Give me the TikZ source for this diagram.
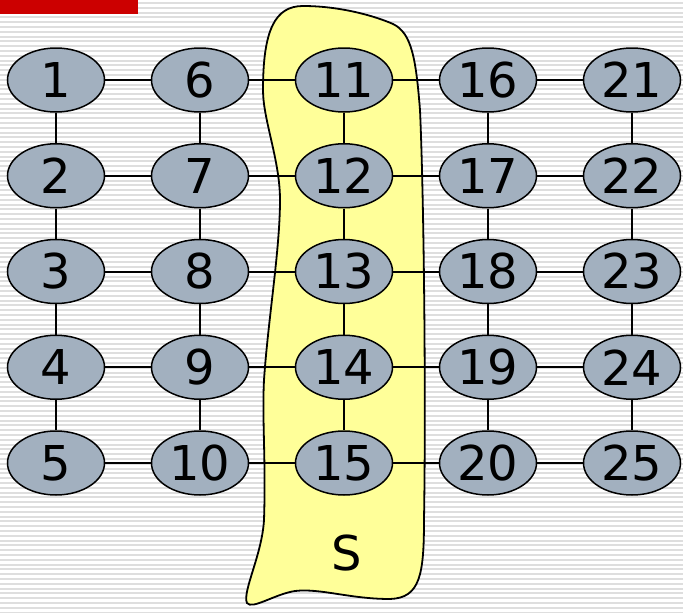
\documentclass[tikz,border=0pt]{standalone}
\usepackage{fontspec}
\setmainfont{DejaVu Sans}
\usepackage{xcolor}
\usepackage{tikz}
\usetikzlibrary{shapes.geometric}
\definecolor{gdnode}{HTML}{A2B0BF}
\definecolor{gdset}{HTML}{FFFF99}
\definecolor{gdred}{HTML}{CC0000}
\definecolor{gdstripe}{HTML}{DEDEDE}
\tikzset{
  vertex/.style={ellipse,draw=black,line width=1.5pt,fill=gdnode,
                 minimum width=97pt,minimum height=64pt,inner sep=0pt,
                 font=\fontsize{48}{52}\selectfont,text=black},
  link/.style={line width=2pt,draw=black},
  stripe/.style={line width=2pt,draw=gdstripe},
  region/.style={draw=black,line width=1.8pt,fill=gdset},
}

\begin{document}
\begin{tikzpicture}[x=1pt,y=-1pt]
\useasboundingbox (0,0) rectangle (683,613);
\fill[white] (0,0) rectangle (683,613);
\foreach \y in {3,7.8,...,613}
  \draw[stripe] (0,\y) -- (683,\y);
\fill[gdred] (0,0) rectangle (138,14);
% the set S
\draw[region] (303,6) .. controls (340,6) and (375,16) .. (393,24)
  .. controls (412,33) and (416,60) .. (420,110)
  .. controls (424,200) and (426,400) .. (424,520)
  .. controls (424,575) and (420,598) .. (390,599)
  .. controls (350,599) and (320,588) .. (295,591)
  .. controls (275,594) and (252,610) .. (247,603)
  .. controls (242,592) and (262,555) .. (264,520)
  .. controls (266,460) and (262,420) .. (264,380)
  .. controls (268,320) and (280,250) .. (280,200)
  .. controls (280,160) and (263,120) .. (263,90)
  .. controls (263,30) and (275,6) .. (303,6) -- cycle;
\node[font=\fontsize{48}{52}\selectfont] (slabel) at (347,553) {S};
\foreach \c in {1,...,5}{
  \foreach \r in {1,...,5}{
    \pgfmathtruncatemacro\k{5*(\c-1)+\r}
    \node[vertex] (n\k) at ({56+144*(\c-1)},{80+95.75*(\r-1)}) {\k};
  }
}
\foreach \c in {0,5,10,15,20}{
  \foreach \r in {1,...,4}{
    \pgfmathtruncatemacro\a{\c+\r}
    \pgfmathtruncatemacro\b{\c+\r+1}
    \draw[link] (n\a) -- (n\b);
  }
}
\foreach \a in {1,...,20}{
  \pgfmathtruncatemacro\b{\a+5}
  \draw[link] (n\a) -- (n\b);
}
\end{tikzpicture}
\end{document}
